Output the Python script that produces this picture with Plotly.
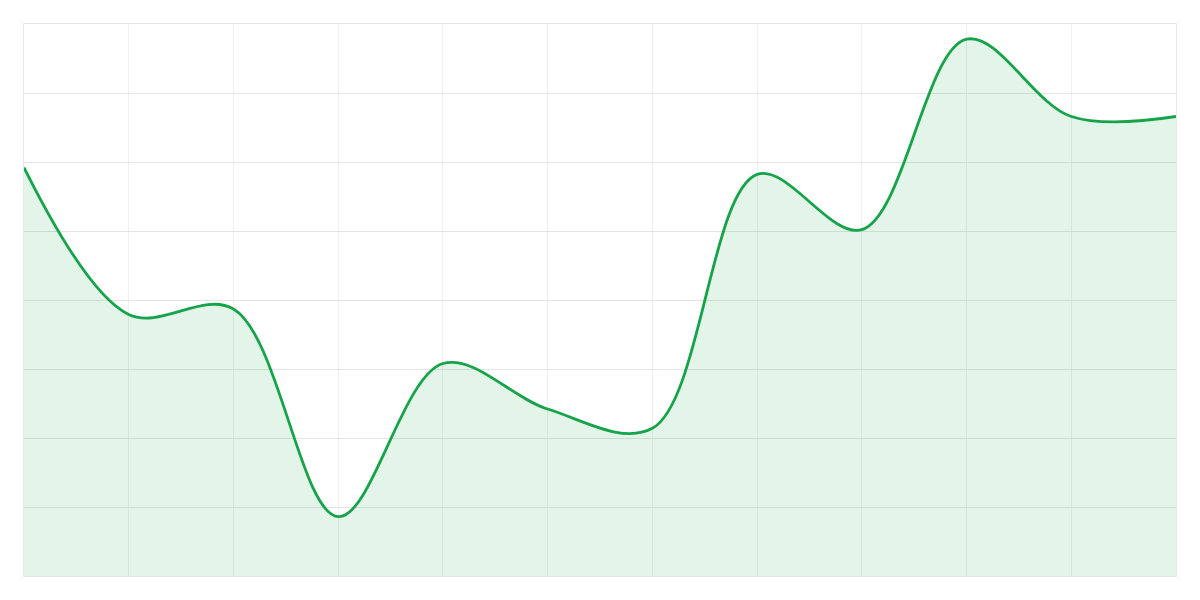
import plotly.graph_objects as go

# values (no labels shown on the chart)
steps = [0, 1, 2, 3, 4, 5, 6, 7, 8, 9, 10, 11]
values = [59.2, 37.9, 38.7, 8.6, 30.8, 24.2, 21.4, 58.2, 50.2, 77.8, 66.6, 66.6]

LINE = "#16a34a"

fig = go.Figure()
fig.add_trace(go.Scatter(
    x=steps, y=values,
    mode="lines",
    line=dict(color=LINE, width=2.8, shape="spline", smoothing=1),
    fill="tozeroy",
    fillcolor="rgba(22,163,74,0.12)",
    hoverinfo="skip",
))

# page has an 8px body margin, so shift the plot area up/left to match
fig.update_layout(
    width=1200, height=600,
    margin=dict(l=16, r=32, t=16, b=32),
    paper_bgcolor="white", plot_bgcolor="white",
    showlegend=False,
)
fig.update_xaxes(range=[0, 11], dtick=1, showticklabels=False, ticks="",
                 gridcolor="#efefef", gridwidth=1, zeroline=False,
                 showline=True, linecolor="#e8e8e8", linewidth=1, mirror=True)
fig.update_yaxes(range=[0, 80], dtick=10, showticklabels=False, ticks="",
                 gridcolor="#e4e4e4", gridwidth=1, zeroline=False,
                 showline=True, linecolor="#e8e8e8", linewidth=1, mirror=True)

fig.write_html("out.html")
